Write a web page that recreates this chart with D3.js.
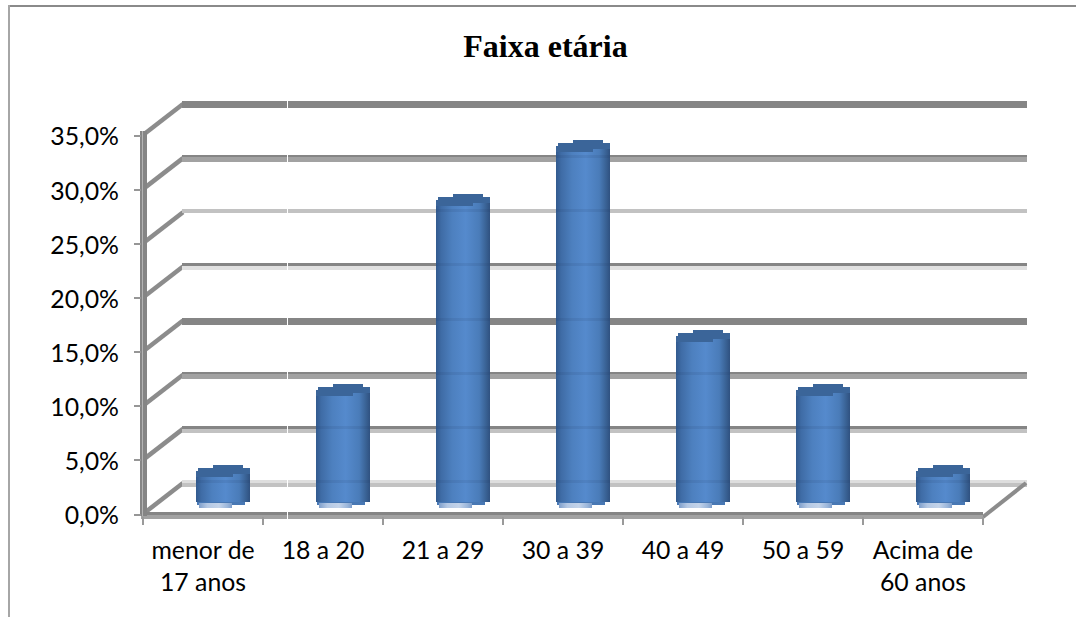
<!DOCTYPE html>
<html lang="pt">
<head>
<meta charset="utf-8">
<title>Faixa etária</title>
<script src="https://cdn.jsdelivr.net/npm/d3@7/dist/d3.min.js"></script>
<style>
  html, body { margin: 0; padding: 0; background: #fff; }
  svg { display: block; }
  .axis-label { font-family: Lato, "Open Sans", sans-serif; font-size: 24.8px; fill: #000; }
  .chart-title { font-family: "Liberation Serif", serif; font-weight: bold; font-size: 32px; fill: #000; }
</style>
</head>
<body>
<svg id="chart" width="1076" height="617"></svg>
<script>
const categories = ["menor de\n17 anos", "18 a 20", "21 a 29", "30 a 39", "40 a 49", "50 a 59", "Acima de\n60 anos"];
const shares = [2.5, 10, 27.5, 32.5, 15, 10, 2.5];
const yTicks = [0, 5, 10, 15, 20, 25, 30, 35];
const titleText = "Faixa etária";

const W = 1076, H = 617;
const DEPTH_X = 40, DEPTH_Y = -31;
const LINE_DARK = "#858585";

// Two-tone shading of each wall gridline, keyed by tick value: [upper, lower, upper height].
const gridTone = {
  0: ["#dedede", "#c2c2c2", 3],
  5: [LINE_DARK, "#c2c2c2", 3],
  10: [LINE_DARK, "#a2a2a2", 2],
  15: [LINE_DARK, LINE_DARK, 3],
  20: [LINE_DARK, "#e0e0e0", 3],
  25: ["#c2c2c2", "#c2c2c2", 2],
  30: [LINE_DARK, "#a2a2a2", 2],
  35: [LINE_DARK, LINE_DARK, 3]
};

const svg = d3.select("#chart");

const x = d3.scaleBand().domain(categories).range([143, 983]);
const y = d3.scaleLinear().domain([0, 35]).range([514, 135]);

const defs = svg.append("defs");
const bodyGrad = defs.append("linearGradient").attr("id", "barBody");
[[0, "#325a8e"], [0.1, "#3f6ca6"], [0.3, "#4d80bf"], [0.55, "#558acd"], [0.8, "#4a7cb9"], [0.92, "#3a6396"], [1, "#2f5180"]]
  .forEach(([o, c]) => bodyGrad.append("stop").attr("offset", o).attr("stop-color", c));
const footGrad = defs.append("linearGradient").attr("id", "barFoot");
[[0, "#7f9fcb"], [0.25, "#b4c8e4"], [0.6, "#c4d4ea"], [0.85, "#9db8dc"], [1, "#7f9fcb"]]
  .forEach(([o, c]) => footGrad.append("stop").attr("offset", o).attr("stop-color", c));

// Chart frame: only the top and left edges fall inside the page.
const frame = svg.append("g").attr("shape-rendering", "crispEdges");
frame.append("rect").attr("x", 8).attr("y", 5).attr("width", W - 8).attr("height", 2).attr("fill", "#8a8a8a");
frame.append("rect").attr("x", 8).attr("y", 5).attr("width", 2).attr("height", H - 5).attr("fill", "#a6a6a6");

svg.append("text").attr("class", "chart-title")
  .attr("x", 545.5).attr("y", 57).attr("text-anchor", "middle").text(titleText);

// Back wall gridlines with their diagonals onto the front axis.
const wall = svg.append("g");
yTicks.forEach(t => {
  const yBack = y(t) + DEPTH_Y;
  const tone = gridTone[t];
  wall.append("line")
    .attr("x1", x.range()[0]).attr("y1", y(t))
    .attr("x2", x.range()[0] + DEPTH_X).attr("y2", yBack)
    .attr("stroke", "#8c8c8c").attr("stroke-width", 4.5);
  const rows = wall.append("g").attr("shape-rendering", "crispEdges");
  const left = x.range()[0] + DEPTH_X - 1;
  const right = x.range()[1] + DEPTH_X + 4;
  const thick = t === 25 ? 4 : 7;
  rows.append("rect").attr("x", left).attr("y", yBack - 3)
    .attr("width", right - left).attr("height", thick).attr("fill", tone[1]);
  rows.append("rect").attr("x", left).attr("y", yBack - 3)
    .attr("width", right - left).attr("height", tone[2]).attr("fill", tone[0]);
});

// Floor edge on the right and the front floor line.
wall.append("line")
  .attr("x1", x.range()[1]).attr("y1", y(0) + 3)
  .attr("x2", x.range()[1] + DEPTH_X + 3).attr("y2", y(0) + DEPTH_Y)
  .attr("stroke", "#8c8c8c").attr("stroke-width", 4);

const floor = svg.append("g").attr("shape-rendering", "crispEdges");
floor.append("rect").attr("x", 141).attr("y", y(0) - 2).attr("width", x.range()[1] - 141).attr("height", 7).attr("fill", "#a2a2a2");
floor.append("rect").attr("x", 141).attr("y", y(0) - 2).attr("width", x.range()[1] - 141).attr("height", 3).attr("fill", LINE_DARK);

// Hairline break that crosses all horizontal rules.
svg.append("rect").attr("x", 287).attr("y", 98).attr("width", 1).attr("height", 425)
  .attr("fill", "#fff").attr("shape-rendering", "crispEdges");

// Vertical axis post and the ticks under the floor.
const post = svg.append("g").attr("shape-rendering", "crispEdges");
post.append("rect").attr("x", 140).attr("y", 131).attr("width", 7).attr("height", 385).attr("fill", LINE_DARK);
post.append("rect").attr("x", 142).attr("y", 131).attr("width", 1).attr("height", 385).attr("fill", "#b4b4b4");

const yAxis = d3.axisLeft(y).tickValues(yTicks).tickSize(7).tickPadding(15)
  .tickFormat(d => d.toFixed(1).replace(".", ",") + "%");
const yG = svg.append("g").attr("transform", "translate(141,0)").call(yAxis);
yG.select(".domain").remove();
yG.selectAll(".tick line").attr("stroke", "#969696").attr("stroke-width", 2).attr("shape-rendering", "crispEdges");
yG.selectAll(".tick text").attr("class", "axis-label").attr("dy", "0.4em");

const floorTicks = svg.append("g").attr("shape-rendering", "crispEdges");
floorTicks.selectAll("rect").data(categories.map(c => x(c)).concat(x.range()[1]))
  .join("rect").attr("x", d => d - 1).attr("y", y(0) + 3).attr("width", 2).attr("height", 8).attr("fill", "#9a9a9a");

// Cylinders: gradient body with a stepped foot, blocky cap, and the rules showing faintly through.
const BAR_W = 54;
const FLOOR_LIFT = 15;
const barCx = c => x(c) + x.bandwidth() / 2 + DEPTH_X / 2;
const capTop = v => y(v) - 22;

const bars = svg.append("g").selectAll("g").data(categories.map((c, i) => ({ c, v: shares[i] })))
  .join("g").attr("shape-rendering", "crispEdges");

bars.append("rect")
  .attr("x", d => barCx(d.c) - 26).attr("y", y(0) - FLOOR_LIFT + 3)
  .attr("width", 48).attr("height", 3).attr("fill", "#4878b4");

bars.append("rect")
  .attr("x", d => barCx(d.c) - 24).attr("y", y(0) - 11)
  .attr("width", 33).attr("height", 5).attr("fill", "url(#barFoot)");

bars.append("rect")
  .attr("x", d => barCx(d.c) - BAR_W / 2)
  .attr("y", d => capTop(d.v) + 6)
  .attr("width", BAR_W)
  .attr("height", d => y(0) - FLOOR_LIFT - capTop(d.v) - 6 + 3)
  .attr("fill", "url(#barBody)");

bars.append("path")
  .attr("fill", "#3b6599")
  .attr("d", d => {
    const cx = barCx(d.c), t = capTop(d.v);
    return d3.line()([
      [cx - 10, t], [cx + 20, t], [cx + 20, t + 3], [cx + 27, t + 3], [cx + 27, t + 9],
      [cx + 10, t + 9], [cx + 10, t + 12], [cx - 27, t + 12], [cx - 27, t + 6], [cx - 25, t + 6],
      [cx - 25, t + 3], [cx - 10, t + 3]
    ]) + "Z";
  });

bars.each(function (d) {
  const g = d3.select(this);
  yTicks.filter(t => y(t) + DEPTH_Y - 3 > capTop(d.v) + 14).forEach(t => {
    g.append("rect")
      .attr("x", barCx(d.c) - BAR_W / 2).attr("y", y(t) + DEPTH_Y - 3)
      .attr("width", BAR_W).attr("height", 3)
      .attr("fill", "#1d3558").attr("opacity", 0.1);
  });
});

// Category labels, wrapped onto two lines where needed.
const labels = svg.append("g");
categories.forEach(c => {
  const text = labels.append("text").attr("class", "axis-label")
    .attr("x", x(c) + x.bandwidth() / 2).attr("y", 559).attr("text-anchor", "middle");
  c.split("\n").forEach((line, i) => {
    text.append("tspan").attr("x", x(c) + x.bandwidth() / 2).attr("dy", i ? 32 : 0).text(line);
  });
});
</script>
</body>
</html>
